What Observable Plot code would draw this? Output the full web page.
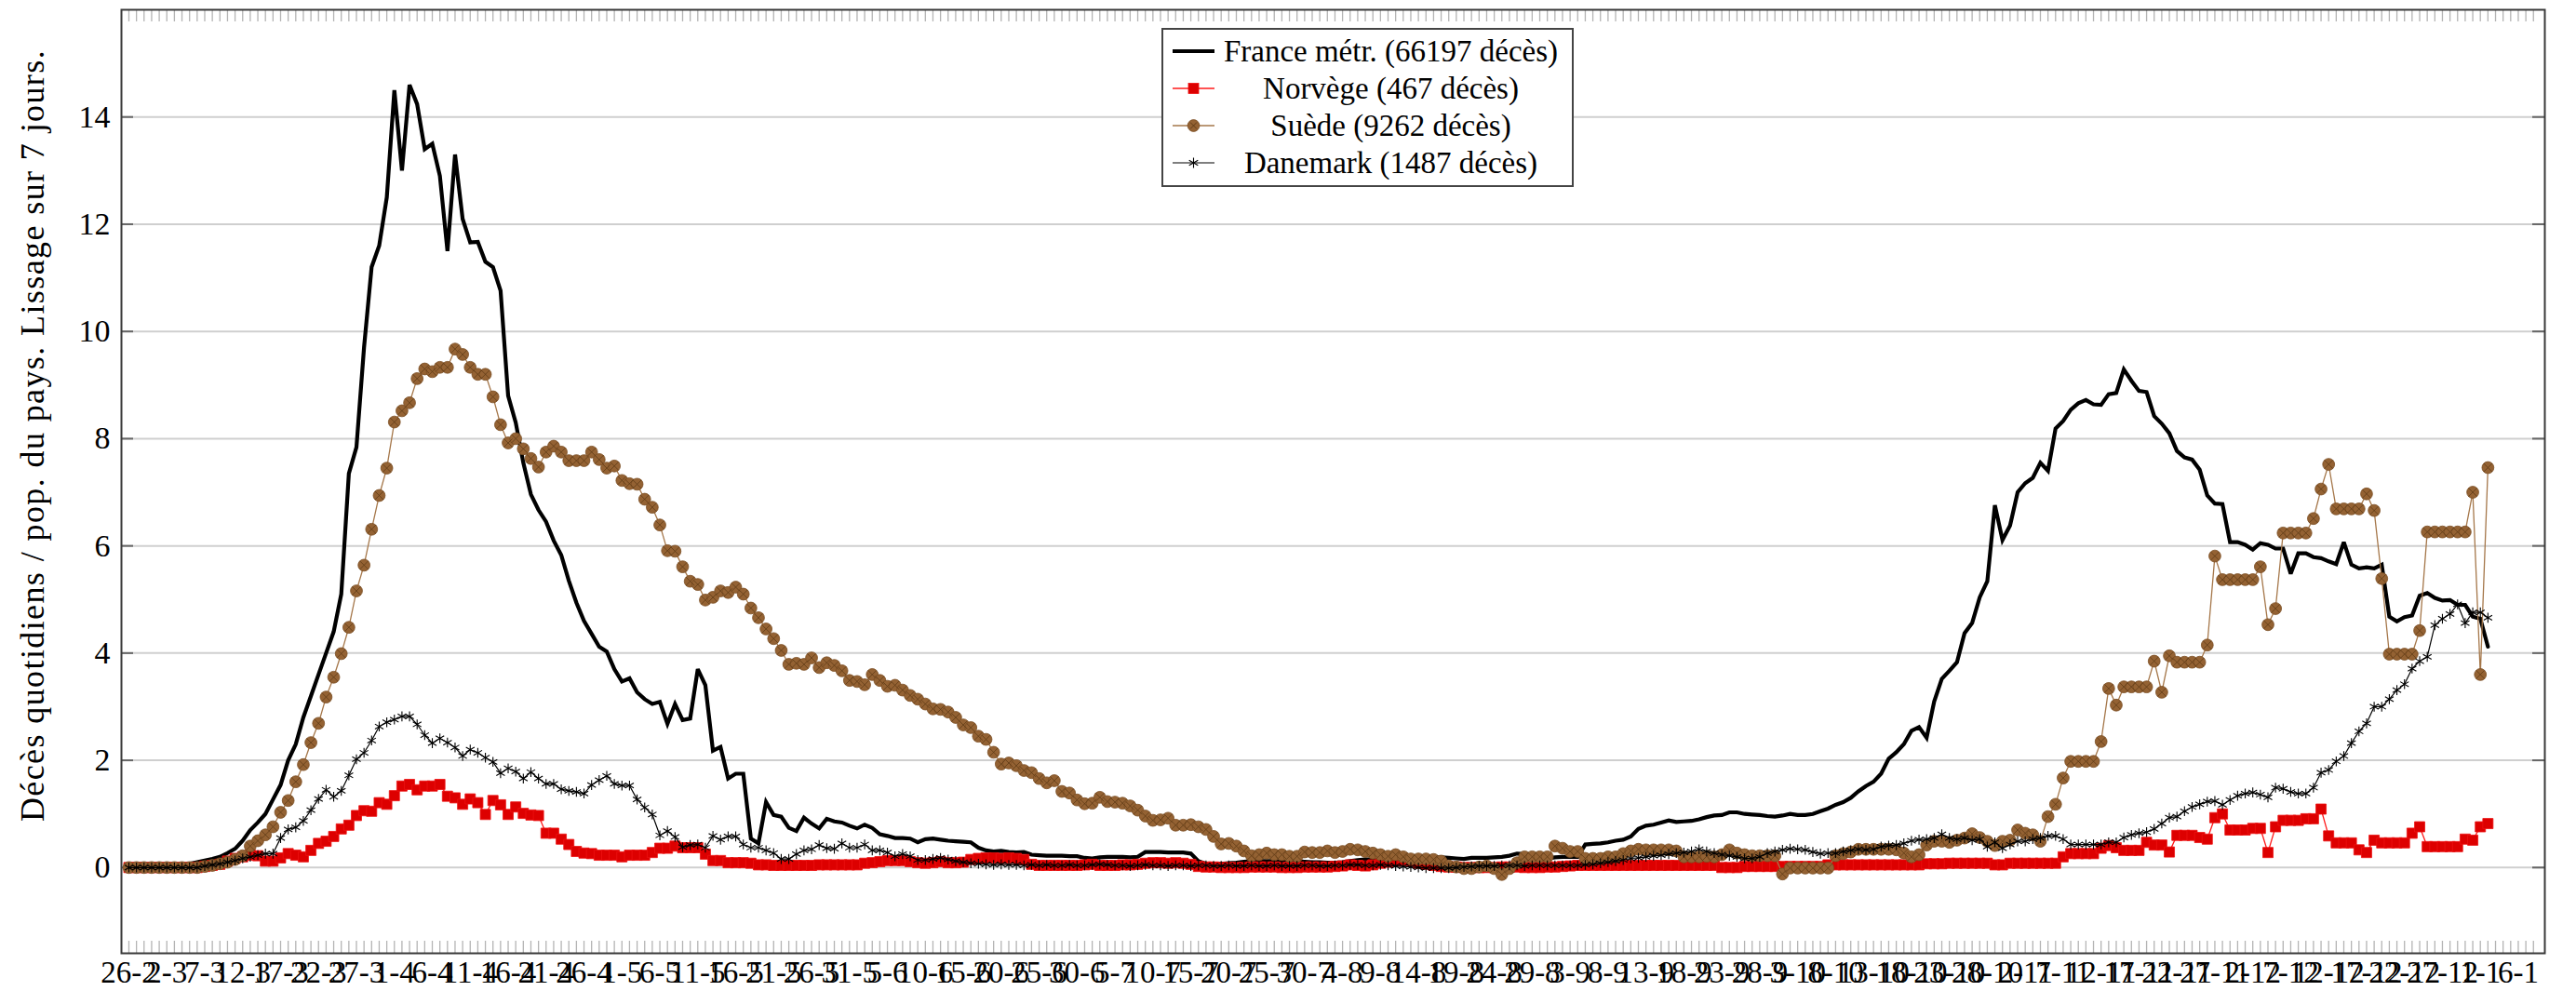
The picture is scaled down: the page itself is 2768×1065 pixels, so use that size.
<!DOCTYPE html>
<html>
<head>
<meta charset="utf-8">
<script src="https://cdn.jsdelivr.net/npm/d3@7"></script>
<script src="https://cdn.jsdelivr.net/npm/@observablehq/plot@0.6"></script>
<style>
  html, body { margin: 0; padding: 0; background: #fff; }
  #wrap { position: relative; width: 2768px; height: 1065px; font-family: "Liberation Serif", "DejaVu Serif", serif; }
  #ytitle { position: absolute; left: 35px; top: 468px; transform: translate(-50%, -50%) rotate(-90deg); white-space: nowrap; font-size: 36px; letter-spacing: 1.4px; color: #000; }
  #legend { position: absolute; left: 1248px; top: 30px; width: 439px; height: 164px; border: 2px solid #444; background: #fff; padding-top: 3px; box-sizing: content-box; }
  .row { position: relative; height: 40px; }
  .row svg { position: absolute; left: 8px; top: 0; }
  .row span { position: absolute; left: 60px; right: 10px; top: 0; line-height: 40px; text-align: center; font-size: 33px; white-space: nowrap; }
</style>
</head>
<body>
<div id="wrap">
  <div id="chart"></div>
  <div id="ytitle"></div>
  <div id="legend"></div>
</div>
<script>
// ---- Data (one value per day, from 26-2-2020) ----
const seriesNames = ["France métr. (66197 décès)", "Norvège (467 décès)", "Suède (9262 décès)", "Danemark (1487 décès)"];
const yTitle = "Décès quotidiens / pop. du pays. Lissage sur 7 jours.";

const france = [
0,0,0,0.01,0.01,0.02,0.03,0.05,0.07,0.1,
0.13,0.16,0.2,0.27,0.35,0.5,0.7,0.84,1.0,1.27,
1.54,2.0,2.3,2.8,3.2,3.6,4.0,4.4,5.1,7.35,
7.84,9.7,11.2,11.6,12.5,14.5,13.0,14.6,14.24,13.4,
13.5,12.9,11.5,13.3,12.1,11.66,11.67,11.3,11.2,10.76,
8.8,8.3,7.55,6.96,6.67,6.45,6.1,5.83,5.35,4.94,
4.6,4.36,4.12,4.03,3.7,3.47,3.53,3.27,3.14,3.05,
3.09,2.68,3.05,2.75,2.78,3.7,3.4,2.18,2.25,1.66,
1.75,1.75,0.54,0.45,1.22,0.98,0.95,0.74,0.68,0.93,
0.82,0.73,0.91,0.86,0.84,0.78,0.73,0.8,0.74,0.62,
0.59,0.55,0.55,0.54,0.47,0.53,0.54,0.52,0.5,0.49,
0.48,0.47,0.37,0.32,0.3,0.31,0.29,0.28,0.29,0.24,
0.23,0.22,0.22,0.22,0.21,0.21,0.18,0.17,0.19,0.2,
0.2,0.2,0.19,0.2,0.29,0.29,0.29,0.28,0.28,0.28,
0.26,0.12,0.07,0.07,0.07,0.08,0.09,0.11,0.12,0.12,
0.12,0.12,0.12,0.12,0.12,0.11,0.1,0.1,0.09,0.09,
0.1,0.12,0.14,0.15,0.15,0.15,0.15,0.15,0.16,0.17,
0.18,0.18,0.19,0.19,0.18,0.17,0.16,0.18,0.18,0.18,
0.19,0.2,0.22,0.26,0.25,0.23,0.2,0.17,0.19,0.2,
0.2,0.2,0.43,0.44,0.45,0.47,0.5,0.52,0.58,0.72,
0.78,0.8,0.84,0.88,0.85,0.86,0.87,0.9,0.94,0.97,
0.98,1.03,1.03,1.0,0.99,0.98,0.96,0.95,0.97,1.0,
0.98,0.98,1.0,1.05,1.1,1.17,1.22,1.3,1.42,1.52,
1.6,1.75,2.03,2.15,2.3,2.55,2.62,2.42,3.1,3.52,
3.67,3.83,4.37,4.56,5.04,5.34,6.76,6.11,6.38,7.0,
7.17,7.27,7.55,7.4,8.19,8.33,8.54,8.66,8.72,8.64,
8.63,8.83,8.85,9.29,9.08,8.89,8.87,8.42,8.28,8.1,
7.77,7.65,7.61,7.42,6.94,6.79,6.78,6.07,6.07,6.02,
5.93,6.05,6.02,5.95,5.95,5.48,5.86,5.86,5.79,5.77,
5.71,5.66,6.07,5.65,5.58,5.6,5.58,5.65,4.68,4.59,
4.67,4.7,5.07,5.12,5.03,4.98,4.99,4.9,4.9,4.68,
4.64,4.12];

const norvege = [
0,0,0,0,0,0,0,0,0,0,
0.02,0.04,0.06,0.12,0.17,0.2,0.23,0.22,0.12,0.12,
0.18,0.26,0.23,0.2,0.32,0.45,0.49,0.58,0.72,0.79,
0.97,1.06,1.05,1.21,1.18,1.34,1.52,1.55,1.45,1.52,
1.52,1.55,1.33,1.3,1.18,1.28,1.21,0.99,1.25,1.17,
0.99,1.13,1.01,0.98,0.97,0.64,0.64,0.53,0.43,0.3,
0.27,0.26,0.23,0.23,0.23,0.2,0.23,0.23,0.23,0.28,
0.36,0.36,0.4,0.37,0.37,0.37,0.25,0.13,0.13,0.09,
0.09,0.09,0.08,0.05,0.05,0.04,0.04,0.04,0.04,0.04,
0.04,0.05,0.05,0.05,0.05,0.05,0.05,0.08,0.09,0.11,
0.13,0.13,0.13,0.11,0.09,0.08,0.09,0.11,0.09,0.09,
0.1,0.15,0.17,0.18,0.18,0.17,0.18,0.17,0.15,0.06,
0.04,0.04,0.04,0.04,0.04,0.04,0.05,0.06,0.04,0.04,
0.04,0.05,0.05,0.06,0.08,0.09,0.09,0.08,0.09,0.08,
0.06,0.02,0.01,0.01,0,0,0,0,0.01,0.01,
0.01,0.01,0,0,0,0.01,0.01,0.01,0.01,0.02,
0.03,0.05,0.04,0.03,0.05,0.08,0.1,0.12,0.14,0.12,
0.08,0.06,0.04,0.02,0.01,0.01,0,0,0,0,
0,0.01,0.01,0.01,0,0,0,0.01,0.01,0.02,
0.03,0.04,0.04,0.04,0.04,0.04,0.04,0.04,0.04,0.04,
0.04,0.04,0.04,0.04,0.04,0.04,0.04,0.04,0.04,0.04,
0,0,0,0.02,0.02,0.02,0.02,0.02,0.02,0.02,
0.02,0.02,0.02,0.02,0.05,0.05,0.05,0.05,0.05,0.05,
0.05,0.05,0.05,0.05,0.05,0.05,0.05,0.07,0.07,0.07,
0.08,0.08,0.08,0.08,0.08,0.08,0.05,0.05,0.08,0.08,
0.08,0.08,0.08,0.08,0.08,0.2,0.26,0.26,0.26,0.26,
0.36,0.41,0.37,0.32,0.32,0.32,0.47,0.42,0.42,0.29,
0.6,0.6,0.6,0.56,0.53,0.93,1.0,0.7,0.7,0.7,
0.73,0.73,0.28,0.76,0.88,0.88,0.88,0.91,0.91,1.09,
0.59,0.46,0.46,0.46,0.33,0.28,0.51,0.46,0.46,0.46,
0.46,0.64,0.76,0.39,0.39,0.39,0.39,0.39,0.53,0.51,
0.76,0.82];

const suede = [
0,0,0,0,0,0,0,0,0,0,
0.02,0.04,0.07,0.1,0.15,0.22,0.4,0.5,0.61,0.76,
1.03,1.25,1.6,1.92,2.33,2.69,3.18,3.55,3.99,4.48,
5.16,5.64,6.31,6.94,7.45,8.31,8.52,8.67,9.12,9.3,
9.25,9.33,9.33,9.67,9.57,9.33,9.2,9.2,8.78,8.26,
7.92,8.0,7.81,7.63,7.47,7.75,7.86,7.75,7.59,7.59,
7.59,7.75,7.61,7.45,7.49,7.22,7.16,7.15,6.87,6.72,
6.39,5.91,5.9,5.61,5.34,5.28,4.99,5.04,5.16,5.13,
5.23,5.1,4.84,4.66,4.45,4.27,4.05,3.79,3.81,3.79,
3.91,3.73,3.82,3.77,3.67,3.49,3.47,3.41,3.6,3.49,
3.38,3.4,3.31,3.21,3.14,3.05,2.96,2.95,2.9,2.8,
2.66,2.61,2.45,2.39,2.15,1.93,1.95,1.9,1.81,1.77,
1.66,1.58,1.62,1.42,1.39,1.26,1.19,1.2,1.31,1.23,
1.22,1.2,1.15,1.07,0.96,0.88,0.89,0.92,0.79,0.79,
0.8,0.76,0.71,0.58,0.44,0.45,0.4,0.31,0.22,0.24,
0.27,0.24,0.24,0.21,0.21,0.29,0.28,0.28,0.31,0.28,
0.3,0.34,0.33,0.3,0.27,0.24,0.21,0.24,0.2,0.16,
0.16,0.16,0.15,0.12,0.03,0.01,-0.02,-0.02,0.01,0.03,
-0.02,-0.13,-0.02,0.09,0.2,0.2,0.2,0.2,0.4,0.36,
0.3,0.3,0.17,0.17,0.17,0.2,0.2,0.26,0.31,0.34,
0.33,0.33,0.33,0.33,0.31,0.2,0.2,0.2,0.21,0.2,
0.24,0.33,0.27,0.24,0.22,0.22,0.22,0.22,-0.12,-0.01,
-0.01,-0.01,-0.01,-0.01,-0.01,0.22,0.26,0.29,0.34,0.34,
0.34,0.34,0.34,0.33,0.27,0.2,0.24,0.42,0.49,0.49,
0.47,0.51,0.55,0.63,0.56,0.49,0.41,0.49,0.51,0.7,
0.64,0.61,0.49,0.95,1.18,1.67,1.98,1.98,1.98,1.98,
2.35,3.34,3.03,3.37,3.37,3.37,3.37,3.85,3.27,3.95,
3.83,3.83,3.83,3.83,4.15,5.81,5.37,5.37,5.37,5.37,
5.37,5.61,4.53,4.83,6.24,6.24,6.24,6.24,6.51,7.06,
7.52,6.69,6.69,6.69,6.69,6.97,6.66,5.39,3.98,3.98,
3.98,3.98,4.42,6.26,6.26,6.26,6.26,6.26,6.26,7.0,
3.6,7.46];

const danemark = [
0,0,0,0,0,0,0,0,0,0,
0.03,0.05,0.07,0.1,0.13,0.17,0.2,0.23,0.26,0.26,
0.55,0.71,0.75,0.87,1.07,1.28,1.45,1.32,1.43,1.72,
2.02,2.14,2.37,2.63,2.71,2.76,2.82,2.82,2.67,2.47,
2.32,2.41,2.33,2.24,2.08,2.2,2.14,2.05,1.97,1.76,
1.85,1.79,1.66,1.78,1.66,1.56,1.56,1.46,1.43,1.41,
1.38,1.54,1.63,1.71,1.56,1.53,1.53,1.27,1.12,0.99,
0.6,0.68,0.57,0.38,0.42,0.43,0.37,0.59,0.52,0.58,
0.58,0.43,0.37,0.37,0.32,0.27,0.16,0.16,0.25,0.32,
0.34,0.42,0.36,0.35,0.45,0.37,0.37,0.43,0.32,0.32,
0.28,0.21,0.25,0.21,0.14,0.14,0.16,0.18,0.15,0.12,
0.1,0.08,0.07,0.06,0.05,0.06,0.05,0.05,0.04,0.05,
0.04,0.05,0.04,0.04,0.05,0.04,0.04,0.05,0.06,0.05,
0.04,0.04,0.03,0.04,0.05,0.04,0.04,0.03,0.04,0.04,
0.03,0.04,0.04,0.03,0.03,0.04,0.03,0.03,0.04,0.03,
0.03,0.04,0.03,0.03,0.03,0.04,0.04,0.03,0.03,0.04,
0.04,0.05,0.05,0.04,0.04,0.05,0.04,0.03,0.02,0.01,
0,-0.01,-0.01,-0.01,-0.01,0,0.01,0.02,0.03,0.03,
0.03,0.04,0.04,0.04,0.03,0.04,0.04,0.04,0.04,0.04,
0.04,0.04,0.05,0.06,0.08,0.1,0.12,0.14,0.17,0.18,
0.2,0.22,0.23,0.25,0.27,0.28,0.3,0.34,0.3,0.27,
0.24,0.22,0.2,0.17,0.17,0.2,0.27,0.3,0.33,0.35,
0.34,0.33,0.29,0.26,0.27,0.27,0.3,0.32,0.34,0.33,
0.34,0.39,0.41,0.42,0.45,0.5,0.52,0.53,0.55,0.62,
0.55,0.53,0.55,0.51,0.53,0.39,0.47,0.36,0.43,0.49,
0.49,0.53,0.55,0.59,0.59,0.53,0.43,0.43,0.43,0.43,
0.43,0.47,0.47,0.56,0.61,0.64,0.66,0.72,0.82,0.93,
0.95,1.05,1.13,1.18,1.23,1.24,1.17,1.26,1.34,1.38,
1.4,1.36,1.31,1.49,1.47,1.41,1.38,1.38,1.49,1.77,
1.82,1.98,2.08,2.32,2.54,2.69,3.0,3.0,3.14,3.31,
3.42,3.71,3.85,3.93,4.52,4.64,4.73,4.91,4.56,4.76,
4.76,4.66];

const xTickLabels = ["26-2","2-3","7-3","12-3","17-3","22-3","27-3","1-4","6-4","11-4","16-4","21-4","26-4",
"1-5","6-5","11-5","16-5","21-5","26-5","31-5","5-6","10-6","15-6","20-6","25-6","30-6",
"5-7","10-7","15-7","20-7","25-7","30-7","4-8","9-8","14-8","19-8","24-8","29-8",
"3-9","8-9","13-9","18-9","23-9","28-9","3-10","8-10","13-10","18-10","23-10","28-10",
"2-11","7-11","12-11","17-11","22-11","27-11","2-12","7-12","12-12","17-12","22-12","27-12","1-1","6-1"];
const yTicks = [0, 2, 4, 6, 8, 10, 12, 14];

// ---- Styles ----
const colFrance = "#000000";
const colNorLine = "#ff1a1a", colNorMark = "#dd0000";
const colSweLine = "#a5774a", colSweMark = "#946233", colSweEdge = "#7a4c22", colSweCross = "#5b3814";
const colDen = "#000000";

const W = 2768, H = 1065, mL = 130, mR = 34, mT = 10, mB = 41;
const plotW = W - mL - mR, plotH = H - mT - mB;
const xLabelPos = xTickLabels.map((_, n) => 5 * n);
const minorTicks = d3.range(0, 318);
const X = (_, i) => i, Y = d => d;

const chart = Plot.plot({
  width: W, height: H,
  marginLeft: mL, marginRight: mR, marginTop: mT, marginBottom: mB,
  x: {type: "linear", domain: [-0.98, 318.5]},
  y: {type: "linear", domain: [-1.6, 16.0]},
  style: {fontFamily: "'Liberation Serif', 'DejaVu Serif', serif", fontSize: "33px", color: "#000", background: "#fff", overflow: "visible"},
  marks: [
    Plot.ruleY(yTicks, {y: d => d, stroke: "#cfcfcf", strokeWidth: 2}),
    Plot.tickX(minorTicks, {x: d => d, insetTop: plotH - 13, stroke: "#b4b4b4", strokeWidth: 1.3}),
    Plot.tickX(minorTicks, {x: d => d, insetBottom: plotH - 13, stroke: "#b4b4b4", strokeWidth: 1.3}),
    Plot.tickY(yTicks, {y: d => d, insetRight: plotW - 13, stroke: "#666", strokeWidth: 2}),
    Plot.tickY(yTicks, {y: d => d, insetLeft: plotW - 13, stroke: "#666", strokeWidth: 2}),
    Plot.axisY(yTicks, {tickSize: 0, tickPadding: 12, label: null, fontSize: 34, tickFormat: d => String(d)}),
    Plot.axisX(xLabelPos, {tickSize: 0, tickPadding: 8, label: null, fontSize: 33,
      tickFormat: d => xTickLabels[Math.round(d / 5)]}),
    // France
    Plot.line(france, {x: X, y: Y, stroke: colFrance, strokeWidth: 4.2, strokeLinejoin: "miter", strokeMiterlimit: 3}),
    // Norvège
    Plot.line(norvege, {x: X, y: Y, stroke: colNorLine, strokeWidth: 1.3}),
    Plot.dot(norvege, {x: X, y: Y, symbol: "square", r: 6.2, fill: colNorMark, stroke: "#ee1111", strokeWidth: 0.8}),
    // Suède
    Plot.line(suede, {x: X, y: Y, stroke: colSweLine, strokeWidth: 1.3}),
    Plot.dot(suede, {x: X, y: Y, r: 6.4, fill: colSweMark, stroke: colSweEdge, strokeWidth: 0.8}),
    Plot.dot(suede, {x: X, y: Y, symbol: "times", r: 4.2, stroke: colSweCross, strokeWidth: 0.9, strokeOpacity: 0.8}),
    // Danemark
    Plot.line(danemark, {x: X, y: Y, stroke: colDen, strokeWidth: 1.2}),
    Plot.dot(danemark, {x: X, y: Y, symbol: "asterisk", r: 5, stroke: colDen, strokeWidth: 1.1}),
    Plot.frame({stroke: "#3a3a3a", strokeWidth: 2})
  ]
});
document.getElementById("chart").appendChild(chart);

// ---- Y title ----
document.getElementById("ytitle").textContent = yTitle;

// ---- Legend ----
const legendSamples = [
  `<line x1="2" y1="20" x2="47" y2="20" stroke="${colFrance}" stroke-width="4.2"/>`,
  `<line x1="2" y1="20" x2="47" y2="20" stroke="${colNorLine}" stroke-width="1.3"/><rect x="19" y="14.5" width="11" height="11" fill="${colNorMark}" stroke="#ee1111" stroke-width="0.8"/>`,
  `<line x1="2" y1="20" x2="47" y2="20" stroke="${colSweLine}" stroke-width="1.5"/><circle cx="24.5" cy="20" r="6.4" fill="${colSweMark}" stroke="${colSweEdge}" stroke-width="0.8"/><path d="M21,16.5 L28,23.5 M28,16.5 L21,23.5" stroke="${colSweCross}" stroke-width="0.9"/>`,
  `<line x1="2" y1="20" x2="47" y2="20" stroke="${colDen}" stroke-width="1.2"/><path d="M24.5,14.5 L24.5,25.5 M19.7,17.2 L29.3,22.8 M29.3,17.2 L19.7,22.8" stroke="${colDen}" stroke-width="1.1"/>`
];
const legend = document.getElementById("legend");
seriesNames.forEach((name, i) => {
  const row = document.createElement("div");
  row.className = "row";
  row.innerHTML = `<svg width="50" height="40" viewBox="0 0 50 40">${legendSamples[i]}</svg><span></span>`;
  row.querySelector("span").textContent = name;
  legend.appendChild(row);
});
</script>
</body>
</html>
